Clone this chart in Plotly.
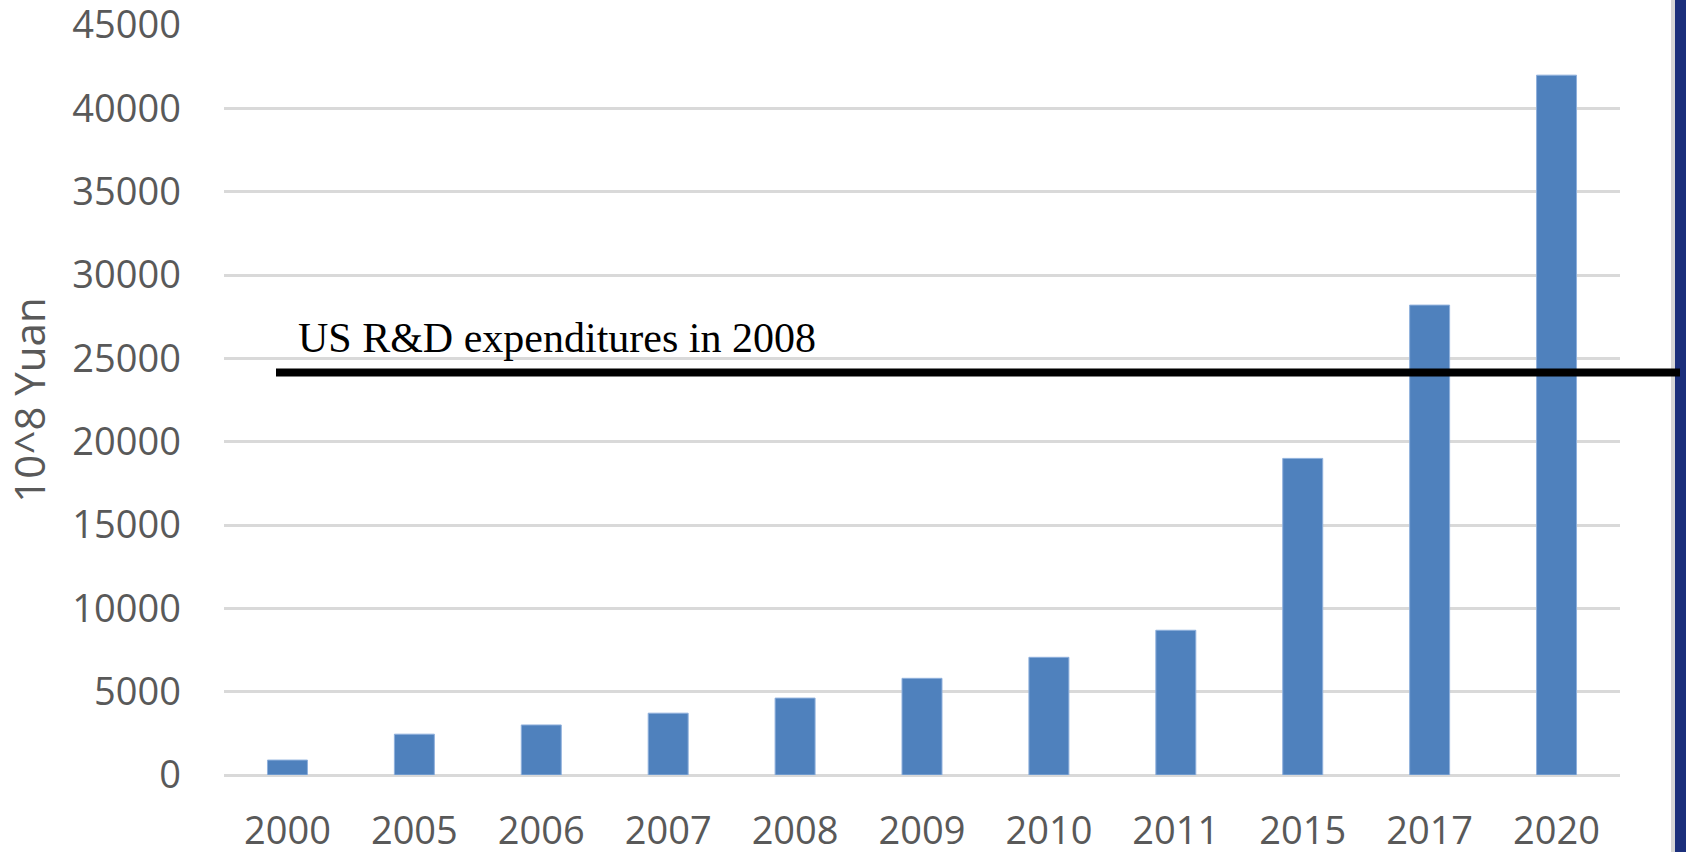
import plotly.graph_objects as go

years = ["2000", "2005", "2006", "2007", "2008", "2009", "2010", "2011", "2015", "2017", "2020"]
rd_spending = [896, 2450, 3003, 3710, 4616, 5802, 7063, 8687, 19000, 28200, 42000]
us_rd_2008 = 24150
ref_label = "US R&D expenditures in 2008"
y_title = "10^8 Yuan"
y_ticks = [0, 5000, 10000, 15000, 20000, 25000, 30000, 35000, 40000, 45000]

W, H = 1686, 852
ML, MT = 224, 25
PLOT_RIGHT, PLOT_BOTTOM = 1620, 775
MR = W - PLOT_RIGHT
MB = H - PLOT_BOTTOM
plot_w = W - ML - MR


def px(x_screen):
    return (x_screen - ML) / plot_w


fig = go.Figure()
fig.add_trace(go.Bar(
    x=years, y=rd_spending,
    marker=dict(color="#4f81bd", line=dict(color="#8fb0dc", width=1)),
    width=0.315,
    hoverinfo="skip",
))

fig.update_layout(
    width=W, height=H,
    margin=dict(l=ML, r=MR, t=MT, b=MB, autoexpand=False),
    plot_bgcolor="white", paper_bgcolor="white",
    showlegend=False,
    font=dict(family="Open Sans", color="#595959"),
    xaxis=dict(
        type="category",
        showgrid=False, showline=False, zeroline=False,
        ticks="", ticklabelstandoff=30,
        tickfont=dict(family="Open Sans", size=38, color="#595959"),
    ),
    yaxis=dict(
        range=[0, 45010],
        tickvals=y_ticks,
        ticktext=[str(v) for v in y_ticks],
        showgrid=True, gridcolor="#d9d9d9", gridwidth=3,
        zeroline=True, zerolinecolor="#d9d9d9", zerolinewidth=3,
        showline=False, ticks="", ticklabelstandoff=42,
        ticklabeloverflow="allow",
        tickfont=dict(family="Open Sans", size=38, color="#595959"),
        title=dict(text=y_title, font=dict(family="Open Sans", size=42, color="#595959"), standoff=22),
    ),
    shapes=[
        dict(type="rect", xref="paper", yref="paper",
             x0=px(1671), x1=px(1675), y0=-0.3, y1=1.3,
             fillcolor="#d6d6d6", line=dict(width=0), layer="above"),
        dict(type="rect", xref="paper", yref="paper",
             x0=px(1675), x1=px(1700), y0=-0.3, y1=1.3,
             fillcolor="#1b2f7b", line=dict(width=0), layer="above"),
        dict(type="line", xref="paper", yref="y",
             x0=px(276), x1=px(1680), y0=us_rd_2008, y1=us_rd_2008,
             line=dict(color="black", width=8), layer="above"),
    ],
    annotations=[
        dict(text=ref_label, xref="paper", yref="y",
             x=px(296), y=26250, xanchor="left", yanchor="middle",
             showarrow=False,
             font=dict(family="Liberation Serif", size=42, color="black")),
    ],
)

fig.write_html(
    "out.html",
    config={"displayModeBar": False},
    post_script="document.body.style.margin='0';document.body.style.overflow='hidden';",
)
